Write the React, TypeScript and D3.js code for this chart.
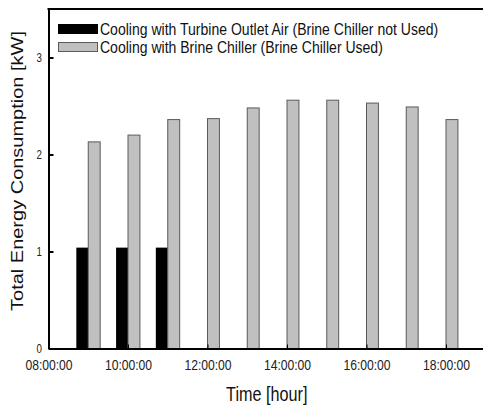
import React, { useEffect, useRef } from 'react';
import * as d3 from 'd3';

// Hour of each bar pair
const barTimes = [
  '09:00:00', '10:00:00', '11:00:00', '12:00:00', '13:00:00',
  '14:00:00', '15:00:00', '16:00:00', '17:00:00', '18:00:00',
];
// Cooling with turbine outlet air (only used in the morning)
const turbineOutletAir = [1.04, 1.04, 1.04, null, null, null, null, null, null, null];
// Cooling with brine chiller
const brineChiller = [2.13, 2.2, 2.36, 2.37, 2.48, 2.56, 2.56, 2.53, 2.49, 2.36];

const xTickLabels = ['08:00:00', '10:00:00', '12:00:00', '14:00:00', '16:00:00', '18:00:00'];
const yTickLabels = [0, 1, 2, 3];
const legendLabels = [
  'Cooling with Turbine Outlet Air (Brine Chiller not Used)',
  'Cooling with Brine Chiller (Brine Chiller Used)',
];

const parseTime = d3.timeParse('%H:%M:%S');
const font = '"Liberation Sans", Arial, sans-serif';
// the source figure's lettering is narrow, squeeze text horizontally
const squeeze = 0.81;

const App: React.FC = () => {
  const ref = useRef<SVGSVGElement>(null);

  useEffect(() => {
    if (!ref.current) return;
    const svg = d3.select(ref.current);
    svg.selectAll('*').remove();

    const W = 483;
    const left = 48.5, top = 9, bottom = 348.5;

    const x = d3.scaleTime()
      .domain([parseTime('08:00:00')!, parseTime('19:00:00')!])
      .range([left, 485.75]);
    const y = d3.scaleLinear().domain([0, 3.5]).range([bottom, top]);

    // bar width = 0.3 hour
    const barEnd = (t: Date) => d3.timeMinute.offset(t, 18);
    const barW = (t: Date) => x(barEnd(t)) - x(t);

    const data = barTimes.map((t, i) => ({
      t: parseTime(t)!,
      a: turbineOutletAir[i],
      b: brineChiller[i],
    }));

    // black bars, left of the hour
    svg.append('g')
      .selectAll('rect')
      .data(data.filter(d => d.a != null))
      .enter()
      .append('rect')
        .attr('x', d => x(d.t) - barW(d.t))
        .attr('width', d => barW(d.t))
        .attr('y', d => y(d.a as number))
        .attr('height', d => bottom - y(d.a as number))
        .attr('fill', '#000');

    // gray bars, right of the hour
    svg.append('g')
      .selectAll('rect')
      .data(data)
      .enter()
      .append('rect')
        .attr('x', d => x(d.t))
        .attr('width', d => barW(d.t))
        .attr('y', d => y(d.b))
        .attr('height', d => bottom - y(d.b))
        .attr('fill', '#c0c0c0')
        .attr('stroke', '#5a5a5a')
        .attr('stroke-width', 1);

    // x axis, ticks pointing in
    const xAxis = svg.append('g')
      .attr('transform', `translate(0,${bottom})`)
      .call(
        d3.axisBottom<Date>(x)
          .tickValues(xTickLabels.map(s => parseTime(s)!))
          .tickFormat(d3.timeFormat('%H:%M:%S'))
          .tickSize(-4)
          .tickSizeOuter(0)
          .tickPadding(11)
      );
    xAxis.select('.domain').attr('stroke-width', 2);
    xAxis.selectAll('text')
      .attr('transform', `scale(${squeeze},1)`)
      .attr('font-family', font)
      .attr('font-size', '15px')
      .attr('fill', '#222');

    // y axis
    const yAxis = svg.append('g')
      .attr('transform', `translate(${left},0)`)
      .call(
        d3.axisLeft(y)
          .tickValues(yTickLabels)
          .tickFormat(d3.format('d'))
          .tickSize(-5)
          .tickSizeOuter(0)
      );
    yAxis.select('.domain').attr('stroke-width', 2);
    yAxis.selectAll('.tick line').attr('stroke-width', 2);
    yAxis.selectAll('text')
      .attr('x', 0)
      .attr('transform', `translate(-6.5,0) scale(${squeeze},1)`)
      .attr('font-family', font)
      .attr('font-size', '12px')
      .attr('fill', '#222');

    // top frame line
    svg.append('line')
      .attr('x1', left - 1).attr('x2', W)
      .attr('y1', top).attr('y2', top)
      .attr('stroke', '#000')
      .attr('stroke-width', 2);

    // legend
    const legend = svg.append('g').attr('transform', 'translate(58.5,24.5)');
    legendLabels.forEach((label, i) => {
      const row = legend.append('g').attr('transform', `translate(0,${i * 18})`);
      row.append('rect')
        .attr('width', 39)
        .attr('height', 9)
        .attr('fill', i === 0 ? '#000' : '#c0c0c0')
        .attr('stroke', i === 0 ? '#000' : '#5a5a5a')
        .attr('stroke-width', 1);
      row.append('text')
        .attr('transform', `translate(41.5,10.5) scale(0.825,1)`)
        .attr('font-family', font)
        .attr('font-size', '17px')
        .attr('fill', '#111')
        .text(label);
    });

    // axis titles
    svg.append('text')
      .attr('transform', `translate(${(left + W) / 2 + 1},401) scale(${squeeze},1)`)
      .attr('text-anchor', 'middle')
      .attr('font-family', font)
      .attr('font-size', '20px')
      .attr('fill', '#111')
      .text('Time [hour]');

    svg.append('text')
      .attr('transform', `translate(22.5,171) scale(${squeeze},1) rotate(-90)`)
      .attr('text-anchor', 'middle')
      .attr('font-family', font)
      .attr('font-size', '20px')
      .attr('fill', '#111')
      .text('Total Energy Consumption [kW]');
  }, []);

  return (
    <svg
      ref={ref}
      width={483}
      height={406}
      style={{ position: 'absolute', left: 0, top: 0, background: '#fff' }}
    />
  );
};

export default App;
